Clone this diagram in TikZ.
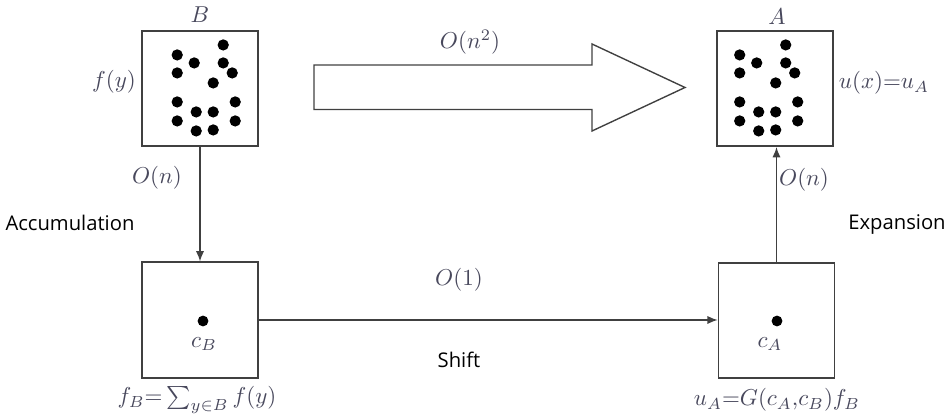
\documentclass[tikz,border=0pt]{standalone}
\usepackage{amsmath}
\usepackage{fontspec}
\setsansfont{Open Sans}
\usetikzlibrary{arrows.meta,positioning,calc}
\definecolor{mathink}{RGB}{72,72,92}

\begin{document}
\begin{tikzpicture}[x=0.435pt, y=-0.435pt, font=\normalsize,
  box/.style={draw=black!75, line width=0.75pt, minimum width=50.4pt, minimum height=50.2pt, inner sep=0pt},
  lbl/.style={text=mathink, inner sep=0pt},
  word/.style={font=\sffamily\fontsize{8.8}{10}\selectfont, inner sep=0pt},
  link/.style={draw=black!75, line width=0.6pt, -{Latex[length=4.5pt,width=3.6pt]}}]
  \useasboundingbox (0,0) rectangle (945,419);
  \node[box] (B) at (200,88.5) {};
  \node[box] (A) at (775,88.5) {};
  \node[box] (cB) at (200,320) {};
  \node[box] (cA) at (776.5,320.5) {};
  \foreach \dx/\dy in {36/25, 82/15, 53/33, 82/33, 91/43, 36/43, 72/53, 36/72, 94/72, 55/82, 72/82, 36/91, 94/91, 55/101, 72/100} {
    \fill (B.north west) ++(\dx,\dy) circle (2.45pt);
    \fill (A.north west) ++(\dx-12.5,\dy) circle (2.45pt);
  }
  \fill ($(cB)+(3,1)$) circle (2.35pt);
  \fill ($(cA)+(0.5,0.5)$) circle (2.35pt);
  \draw[draw=black!75, line width=0.6pt] (314,65) -- (592,65) -- (592,44) -- (685,87.5) -- (592,131) -- (592,109.5) -- (314,109.5) -- cycle;
  \node[lbl] (cost) at (470,42) {$O(n^2)$};
  \node[lbl] (Blbl) at (200,15) {$B$};
  \node[lbl] (Albl) at (777,17) {$A$};
  \node[lbl] (fy) at (114,82) {$f(y)$};
  \node[lbl] (ux) at (884,83) {$u(x){=}u_A$};
  \node[lbl] (cBlbl) at (204,344) {$c_B$};
  \node[lbl] (cAlbl) at (770,344) {$c_A$};
  \node[lbl] (fB) at (197,400) {$f_B{=}\sum_{y\in B}f(y)$};
  \node[lbl] (uA) at (777,400) {$u_A{=}G(c_A{,}c_B)f_B$};
  \draw[link] (B) -- (cB);
  \draw[link] (cB.east) -- (cB.east -| cA.west);
  \draw[link] (cA.north) -- (cA.north |- A.south);
  \node[lbl] (down) at (157,178) {$O(n)$};
  \node[lbl] (up) at (804,180) {$O(n)$};
  \node[lbl] (shiftcost) at (459,280) {$O(1)$};
  \node[word] (acc) at (70,223) {Accumulation};
  \node[word] (exp) at (897,225) {Expansion};
  \node[word] (shift) at (459,360) {Shift};
\end{tikzpicture}
\end{document}
